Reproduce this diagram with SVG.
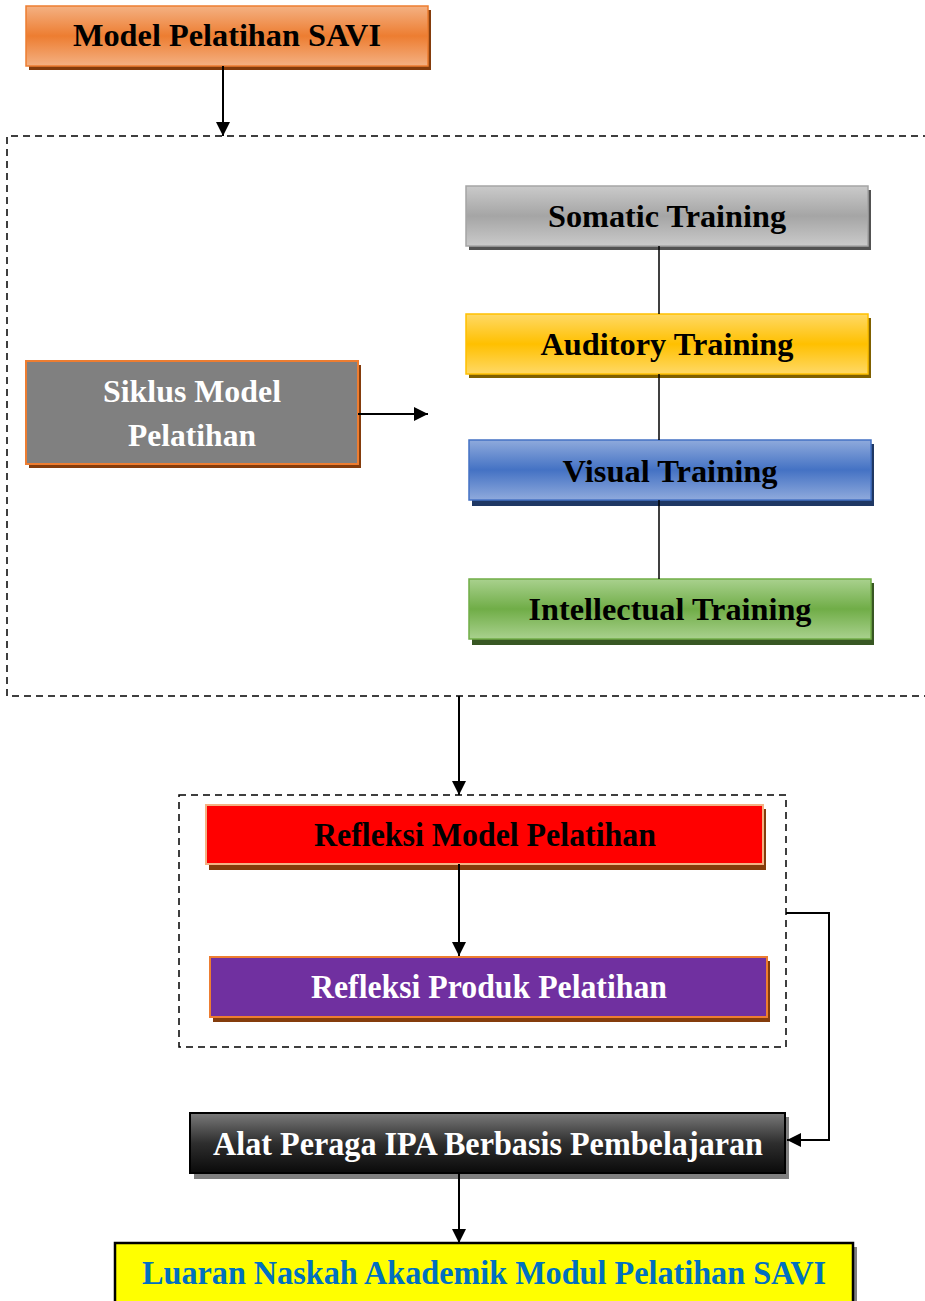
<svg xmlns="http://www.w3.org/2000/svg" width="925" height="1301" viewBox="0 0 925 1301">
<defs>
<linearGradient id="gOrange" x1="0" y1="0" x2="0" y2="1"><stop offset="0" stop-color="#F4B183"/><stop offset="0.5" stop-color="#ED7D31"/><stop offset="1" stop-color="#F4B183"/></linearGradient>
<linearGradient id="gGray" x1="0" y1="0" x2="0" y2="1"><stop offset="0" stop-color="#CACACA"/><stop offset="0.5" stop-color="#A5A5A5"/><stop offset="1" stop-color="#CACACA"/></linearGradient>
<linearGradient id="gGold" x1="0" y1="0" x2="0" y2="1"><stop offset="0" stop-color="#FFD966"/><stop offset="0.5" stop-color="#FFC000"/><stop offset="1" stop-color="#FFD966"/></linearGradient>
<linearGradient id="gBlue" x1="0" y1="0" x2="0" y2="1"><stop offset="0" stop-color="#8FAADC"/><stop offset="0.5" stop-color="#4472C4"/><stop offset="1" stop-color="#8FAADC"/></linearGradient>
<linearGradient id="gGreen" x1="0" y1="0" x2="0" y2="1"><stop offset="0" stop-color="#A9D18E"/><stop offset="0.5" stop-color="#70AD47"/><stop offset="1" stop-color="#A9D18E"/></linearGradient>
<linearGradient id="gBlack" x1="0" y1="0" x2="0" y2="1"><stop offset="0" stop-color="#7A7A7A"/><stop offset="0.5" stop-color="#2E2E2E"/><stop offset="1" stop-color="#0A0A0A"/></linearGradient>
<marker id="arr" viewBox="0 0 10 10" refX="10" refY="5" markerWidth="14" markerHeight="14" markerUnits="userSpaceOnUse" orient="auto"><path d="M0,0 L10,5 L0,10 z" fill="#000"/></marker>
</defs>
<style>
text{font-family:"Liberation Serif","Times New Roman",serif;font-weight:bold;font-size:32px;text-anchor:middle}
.t33{font-size:34px}
.conn{stroke:#000;stroke-width:2;fill:none}
.thin{stroke:#000;stroke-width:1.5;fill:none}
.dash{stroke:#000;stroke-width:1.5;fill:none;stroke-dasharray:7,5}
</style>
<rect width="925" height="1301" fill="#fff"/>

<g id="containers">
<path class="dash" d="M930,136 H7 V696 H930"/>
<rect class="dash" x="179" y="795" width="607" height="252"/>
</g>

<g id="node-model-savi">
<rect x="29" y="10" width="402" height="60" fill="#843C0C"/>
<rect x="26" y="6" width="402" height="60" fill="url(#gOrange)" stroke="#ED7D31" stroke-width="1.5"/>
<text x="227" y="46" textLength="308" lengthAdjust="spacingAndGlyphs">Model Pelatihan SAVI</text>
</g>

<g id="node-somatic">
<rect x="469" y="190" width="402" height="60" fill="#525252"/>
<rect x="466" y="186" width="402" height="60" fill="url(#gGray)" stroke="#A5A5A5" stroke-width="1.5"/>
<text x="667" y="227" textLength="238" lengthAdjust="spacingAndGlyphs">Somatic Training</text>
</g>

<g id="node-auditory">
<rect x="469" y="318" width="402" height="60" fill="#7F6000"/>
<rect x="466" y="314" width="402" height="60" fill="url(#gGold)" stroke="#FFC000" stroke-width="1.5"/>
<text x="667" y="355" textLength="253" lengthAdjust="spacingAndGlyphs">Auditory Training</text>
</g>

<g id="node-visual">
<rect x="472" y="444" width="402" height="62" fill="#1F3864"/>
<rect x="469" y="440" width="402" height="60" fill="url(#gBlue)" stroke="#4472C4" stroke-width="1.5"/>
<text x="670" y="482" textLength="215" lengthAdjust="spacingAndGlyphs">Visual Training</text>
</g>

<g id="node-intellectual">
<rect x="472" y="583" width="402" height="62" fill="#385723"/>
<rect x="469" y="579" width="402" height="60" fill="url(#gGreen)" stroke="#70AD47" stroke-width="1.5"/>
<text x="670" y="620" textLength="283" lengthAdjust="spacingAndGlyphs">Intellectual Training</text>
</g>

<g id="node-siklus">
<rect x="29" y="365" width="332" height="103" fill="#843C0C"/>
<rect x="26" y="361" width="332" height="103" fill="#808080" stroke="#ED7D31" stroke-width="2"/>
<text x="192" y="402" fill="#fff" textLength="178" lengthAdjust="spacingAndGlyphs">Siklus Model</text>
<text x="192" y="446" fill="#fff" textLength="128" lengthAdjust="spacingAndGlyphs">Pelatihan</text>
</g>

<g id="node-refleksi-model">
<rect x="209" y="809" width="557" height="61" fill="#843C0C"/>
<rect x="206" y="805" width="557" height="59" fill="#FF0000" stroke="#F4B183" stroke-width="2"/>
<text class="t33" x="485" y="846" textLength="342" lengthAdjust="spacingAndGlyphs">Refleksi Model Pelatihan</text>
</g>

<g id="node-refleksi-produk">
<rect x="213" y="961" width="557" height="61" fill="#843C0C"/>
<rect x="210" y="957" width="557" height="60" fill="#7030A0" stroke="#ED7D31" stroke-width="2"/>
<text class="t33" x="489" y="998" fill="#fff" textLength="356" lengthAdjust="spacingAndGlyphs">Refleksi Produk Pelatihan</text>
</g>

<g id="node-alat-peraga">
<rect x="194" y="1117" width="595" height="62" fill="#7F7F7F"/>
<rect x="190" y="1113" width="595" height="60" fill="url(#gBlack)" stroke="#000" stroke-width="2"/>
<text class="t33" x="488" y="1155" fill="#fff" textLength="550" lengthAdjust="spacingAndGlyphs">Alat Peraga IPA Berbasis Pembelajaran</text>
</g>

<g id="node-luaran">
<rect x="119" y="1247" width="738" height="60" fill="#7F7F7F"/>
<rect x="115" y="1243" width="738" height="62" fill="#FFFF00" stroke="#000" stroke-width="2.5"/>
<text class="t33" x="484" y="1284" fill="#0070C0" textLength="684" lengthAdjust="spacingAndGlyphs">Luaran Naskah Akademik Modul Pelatihan SAVI</text>
</g>

<g id="connectors">
<line class="conn" x1="223" y1="66" x2="223" y2="136" marker-end="url(#arr)"/>
<line class="thin" x1="659" y1="246" x2="659" y2="314"/>
<line class="thin" x1="659" y1="374" x2="659" y2="440"/>
<line class="thin" x1="659" y1="500" x2="659" y2="579"/>
<line class="conn" x1="358" y1="414" x2="428" y2="414" marker-end="url(#arr)"/>
<line class="conn" x1="459" y1="696" x2="459" y2="795" marker-end="url(#arr)"/>
<line class="conn" x1="459" y1="864" x2="459" y2="956" marker-end="url(#arr)"/>
<path class="conn" d="M786,913 H829 V1140 H787" marker-end="url(#arr)"/>
<line class="conn" x1="459" y1="1173" x2="459" y2="1243" marker-end="url(#arr)"/>
</g>
</svg>
